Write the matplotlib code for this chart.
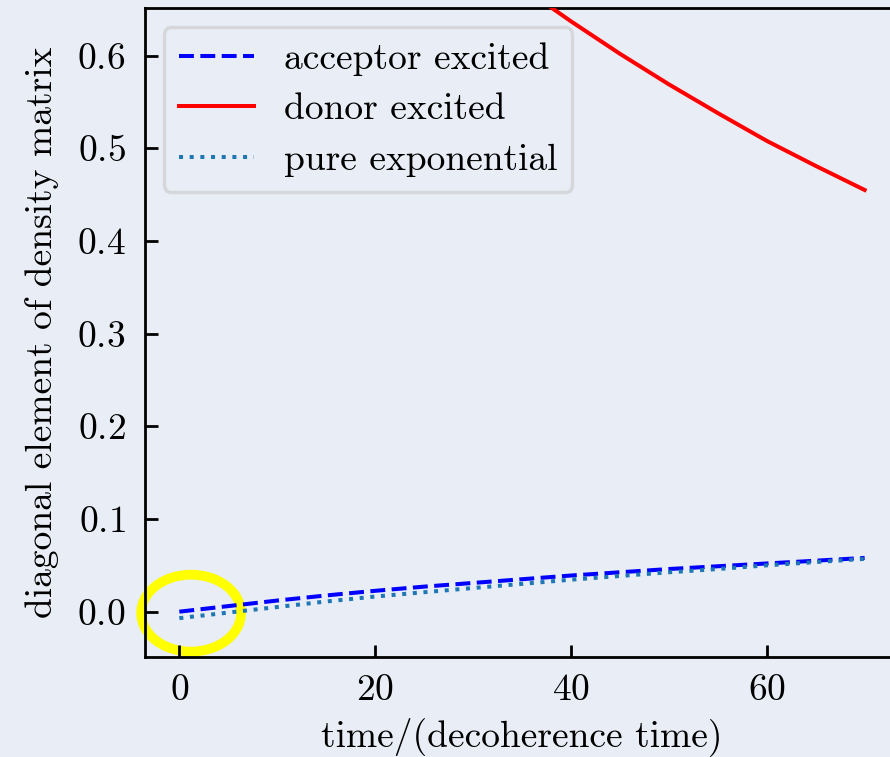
import matplotlib
matplotlib.use('Agg')
import matplotlib.pyplot as plt
from matplotlib.patches import Ellipse

plt.rcParams['font.family'] = 'serif'
plt.rcParams['font.serif'] = ['cmr10']
plt.rcParams['mathtext.fontset'] = 'cm'
plt.rcParams['axes.formatter.use_mathtext'] = True
plt.rcParams['font.size'] = 27

# time in units of decoherence time
t = [0, 5, 10, 15, 20, 25, 30, 35, 40, 45, 50, 55, 60, 65, 70]
acceptor = [0.000, 0.006, 0.012, 0.0175, 0.0225, 0.027, 0.031, 0.035,
            0.039, 0.0425, 0.046, 0.049, 0.052, 0.055, 0.058]
donor = [1.000, 0.945, 0.893, 0.844, 0.798, 0.754, 0.713, 0.674,
         0.637, 0.602, 0.569, 0.538, 0.508, 0.481, 0.455]
pure_exp = [-0.007, -0.001, 0.005, 0.011, 0.0163, 0.021, 0.0255, 0.030,
            0.0345, 0.0385, 0.0425, 0.046, 0.050, 0.0535, 0.057]

bg = '#e9eef6'
fig = plt.figure(figsize=(8.9, 7.57), dpi=100, facecolor=bg)
ax = fig.add_axes([0.163, 0.132, 0.847, 0.857])
ax.set_facecolor(bg)

ax.plot(t, acceptor, '--', color='blue', lw=2.9, label='acceptor excited', zorder=3)
ax.plot(t, donor, '-', color='red', lw=2.9, label='donor excited', zorder=3)
ax.plot(t, pure_exp, ':', color='tab:blue', lw=2.9, label='pure exponential', zorder=3)

# highlight circle around the origin
ring = Ellipse((1.2, -0.0016), 10.2, 0.083, fill=False, edgecolor='#ffff00',
               lw=7, clip_on=False, zorder=1.5)
ax.add_patch(ring)

ax.set_xlim(-3.5, 73.5)
ax.set_ylim(-0.049, 0.651)
ax.set_xticks([0, 20, 40, 60])
ax.set_yticks([0.0, 0.1, 0.2, 0.3, 0.4, 0.5, 0.6])
ax.tick_params(direction='in', length=9, width=2, pad=12)
ax.tick_params(axis='y', pad=14)
for s in ax.spines.values():
    s.set_linewidth(2)

ax.set_xlabel('time/(decoherence time)', labelpad=7)
ax.set_ylabel('diagonal element of density matrix', labelpad=13)

leg = ax.legend(loc='upper left', handlelength=2.0, handletextpad=0.8, fancybox=True,
                framealpha=0.6, borderpad=0.4, labelspacing=0.46, borderaxespad=0.5)
leg.get_frame().set_facecolor(bg)
leg.get_frame().set_edgecolor('#c8c8c8')
leg.get_frame().set_linewidth(2.5)

fig.savefig('out.png', dpi=100, facecolor=bg)
